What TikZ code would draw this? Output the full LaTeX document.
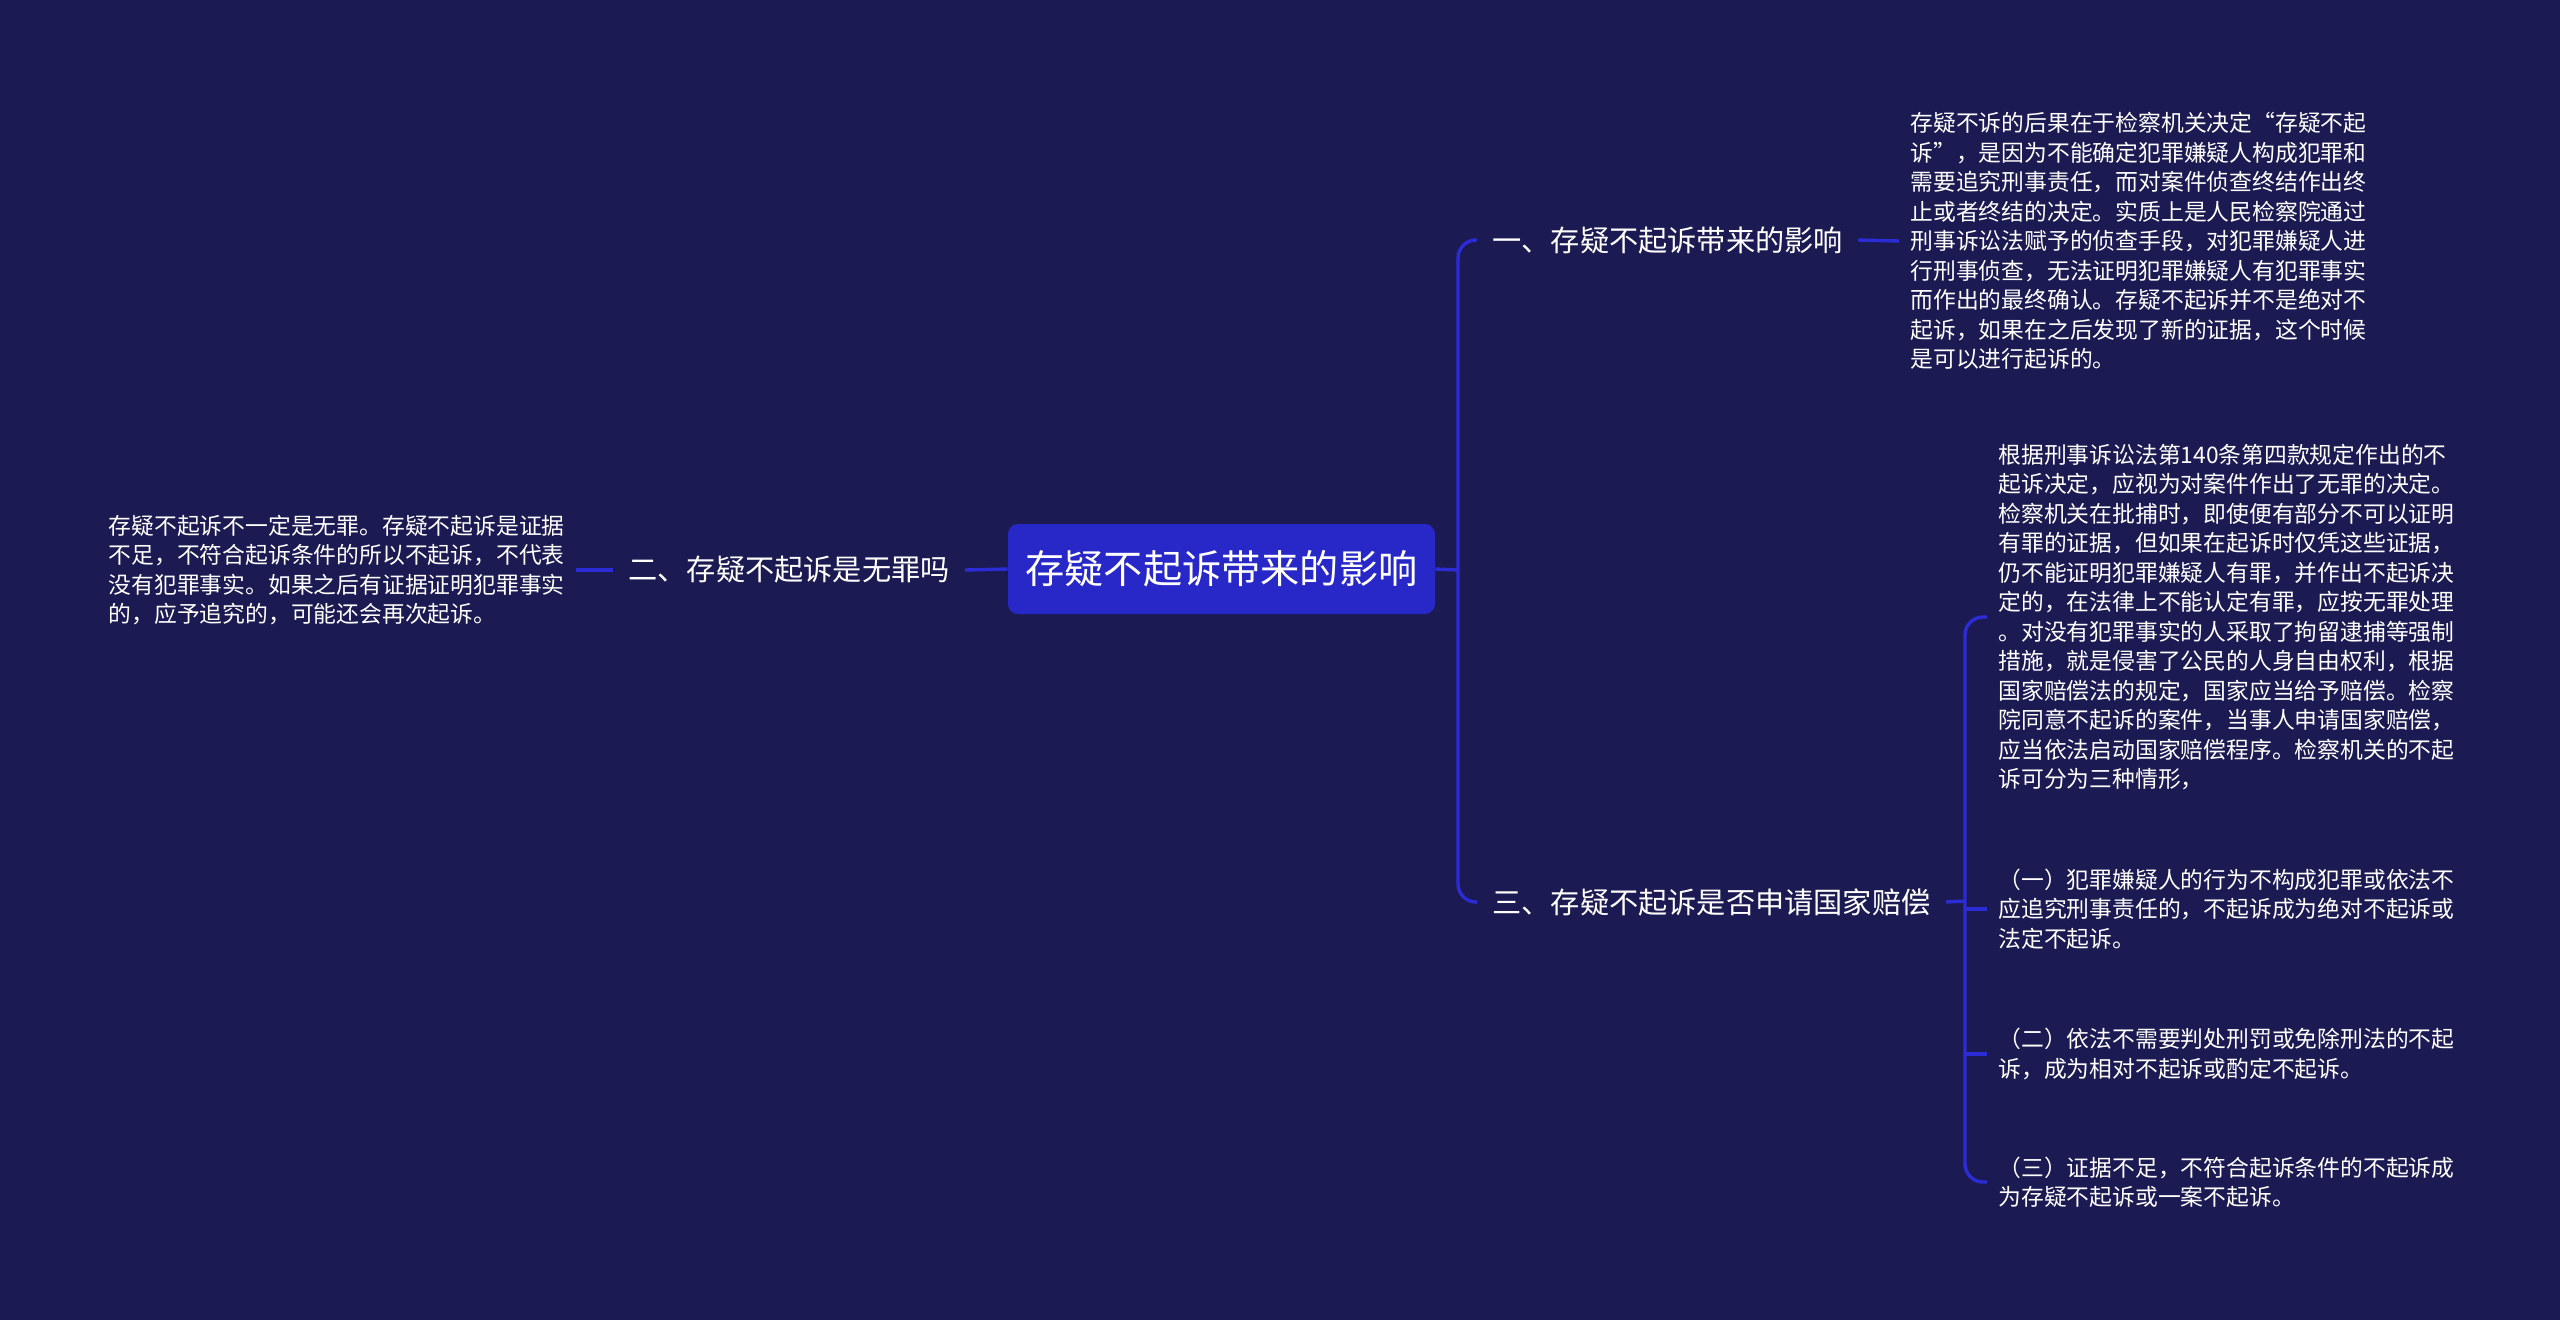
\documentclass[tikz,border=0pt]{standalone}
\usepackage{fontspec}
\newfontfamily\cjk{Noto Sans CJK SC}
\definecolor{bgnavy}{RGB}{27,26,82}
\definecolor{rootblue}{RGB}{40,40,200}
\definecolor{linkblue}{RGB}{44,44,214}

\begin{document}
\begin{tikzpicture}[
                x=0.5pt, y=-0.5pt,
                root/.style={fill=rootblue, rounded corners=5pt, text=white, inner sep=0pt,
                    minimum width=213.5pt, minimum height=45pt,
                    font=\cjk\fontsize{19.6pt}{24pt}\selectfont},
                branch/.style={text=white, inner xsep=7.5pt, inner ysep=2pt,
                    font=\cjk\fontsize{14.6pt}{18pt}\selectfont},
                leaf/.style={text=white, align=left, inner xsep=5.5pt, inner ysep=2pt,
                    font=\cjk\fontsize{11.4pt}{14.75pt}\selectfont},
                link/.style={linkblue, line width=1.7pt}
            ]
            \useasboundingbox (0,0) rectangle (2560,1319);
            \fill[bgnavy] (-10,-10) rectangle (2570,1329);

            \node[root] (root) at (1221.5,569) {存疑不起诉带来的影响};

            \node[branch, anchor=west] (b1) at (1477,240) {一、存疑不起诉带来的影响};
            \node[branch, anchor=east] (b2) at (965,570) {二、存疑不起诉是无罪吗};
            \node[branch, anchor=west] (b3) at (1477,902) {三、存疑不起诉是否申请国家赔偿};

            \node[leaf, anchor=west] (l1) at (1899,241) {存疑不诉的后果在于检察机关决定“存疑不起\\
                诉”，是因为不能确定犯罪嫌疑人构成犯罪和\\
                需要追究刑事责任，而对案件侦查终结作出终\\
                止或者终结的决定。实质上是人民检察院通过\\
                刑事诉讼法赋予的侦查手段，对犯罪嫌疑人进\\
                行刑事侦查，无法证明犯罪嫌疑人有犯罪事实\\
                而作出的最终确认。存疑不起诉并不是绝对不\\
                起诉，如果在之后发现了新的证据，这个时候\\
                是可以进行起诉的。};
            \node[leaf, anchor=east] (l2) at (576,570) {存疑不起诉不一定是无罪。存疑不起诉是证据\\
                不足，不符合起诉条件的所以不起诉，不代表\\
                没有犯罪事实。如果之后有证据证明犯罪事实\\
                的，应予追究的，可能还会再次起诉。};
            \node[leaf, anchor=west] (l3a) at (1987,617) {根据刑事诉讼法第140条第四款规定作出的不\\
                起诉决定，应视为对案件作出了无罪的决定。\\
                检察机关在批捕时，即使便有部分不可以证明\\
                有罪的证据，但如果在起诉时仅凭这些证据，\\
                仍不能证明犯罪嫌疑人有罪，并作出不起诉决\\
                定的，在法律上不能认定有罪，应按无罪处理\\
                。对没有犯罪事实的人采取了拘留逮捕等强制\\
                措施，就是侵害了公民的人身自由权利，根据\\
                国家赔偿法的规定，国家应当给予赔偿。检察\\
                院同意不起诉的案件，当事人申请国家赔偿，\\
                应当依法启动国家赔偿程序。检察机关的不起\\
                诉可分为三种情形，};
            \node[leaf, anchor=west] (l3b) at (1987,909) {（一）犯罪嫌疑人的行为不构成犯罪或依法不\\
                应追究刑事责任的，不起诉成为绝对不起诉或\\
                法定不起诉。};
            \node[leaf, anchor=west] (l3c) at (1987,1054) {（二）依法不需要判处刑罚或免除刑法的不起\\
                诉，成为相对不起诉或酌定不起诉。};
            \node[leaf, anchor=west] (l3d) at (1987,1182) {（三）证据不足，不符合起诉条件的不起诉成\\
                为存疑不起诉或一案不起诉。};

            % brackets
            \coordinate (rj) at (1458,570);
            \coordinate (bj) at (1965,901);

            \draw[link] (root.east) -- (rj);
            \draw[link, rounded corners=9pt] (b1.west) -| (rj) |- (b3.west);
            \draw[link] (b1.east) -- (l1.west);
            \draw[link] (root.west) -- (b2.east);
            \draw[link] (b2.west) -- (l2.east);
            \draw[link] (b3.east) -- (bj);
            \draw[link, rounded corners=9pt] (l3a.west) -| (bj) |- (l3d.west);
            \draw[link] (bj |- l3b.west) -- (l3b.west);
            \draw[link] (bj |- l3c.west) -- (l3c.west);
            \end{tikzpicture}
\end{document}
